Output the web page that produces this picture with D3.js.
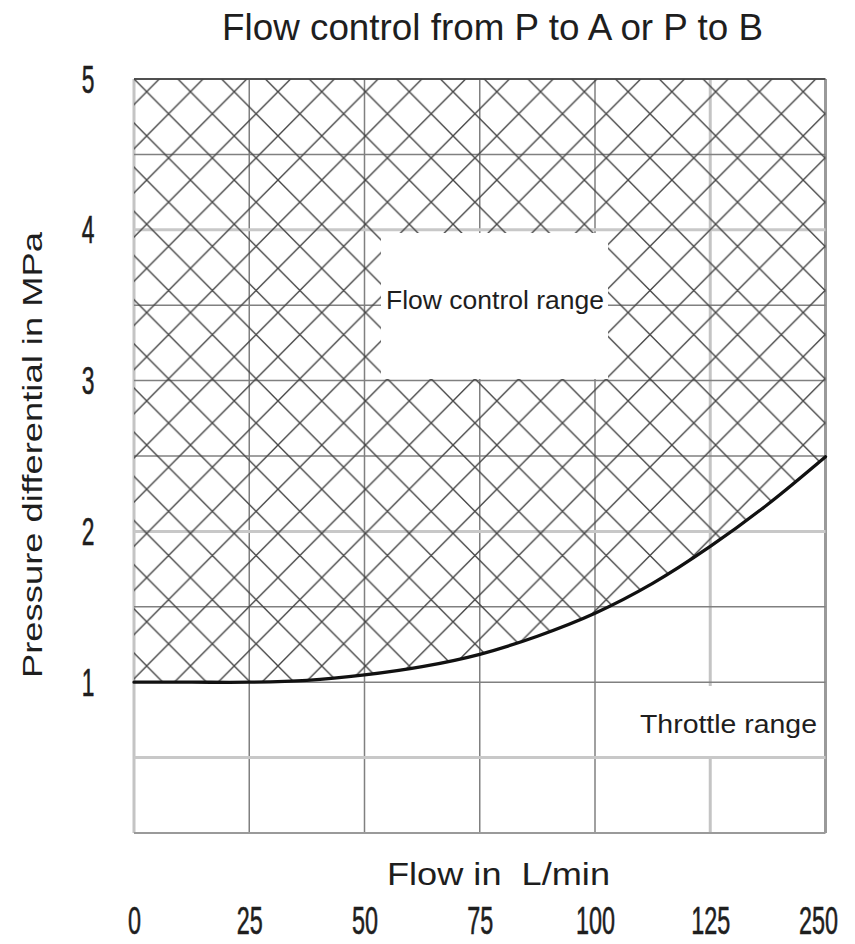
<!DOCTYPE html>
<html>
<head>
<meta charset="utf-8">
<script src="https://cdn.jsdelivr.net/npm/d3@7"></script>
<style>
  html, body { margin: 0; padding: 0; background: #fff; }
  svg { display: block; }
  text { font-family: "Liberation Sans", Arial, Helvetica, sans-serif; fill: #1e1e1e; }
</style>
</head>
<body>
<svg id="chart" width="855" height="944"></svg>
<script>
// ---- data ----
const flowLabels = ["0", "25", "50", "75", "100", "125", "250"];   // x tick labels (equally spaced)
const pressureTicks = [1, 2, 3, 4, 5];                               // y tick labels
const curveIdx = [0, 0.5, 1, 1.5, 2, 2.5, 3, 3.5, 4, 4.5, 5, 5.5, 6]; // positions along flow axis (label index)
const curveP   = [1.0, 1.0, 1.0, 1.012, 1.048, 1.103, 1.185, 1.305, 1.457, 1.655, 1.90, 2.18, 2.495]; // MPa
const titleText = "Flow control from P to A or P to B";
const xTitle = "Flow in  L/min";
const yTitle = "Pressure differential in MPa";
const regionLabels = ["Flow control range", "Throttle range"];

// ---- layout ----
const svg = d3.select("#chart");
const pL = 134, pR = 825.5, pT = 79, pB = 833;
const x = d3.scaleLinear().domain([0, flowLabels.length - 1]).range([pL, pR]);
const y = d3.scaleLinear().domain([0, 5]).range([pB, pT]);

const curveData = curveIdx.map((v, i) => ({ i: v, p: curveP[i] }));
const curveType = d3.curveCatmullRom.alpha(0.5);

// hatch pattern
const defs = svg.append("defs");
const pw = (pR - pL) / 15.8, ph = (pB - pT) / 17.07;
const pat = defs.append("pattern")
  .attr("id", "hatch")
  .attr("patternUnits", "userSpaceOnUse")
  .attr("x", pL + 12.7).attr("y", pT + 12.7)
  .attr("width", pw).attr("height", ph);
pat.append("path")
  .attr("d", `M${-pw},${-ph}L${2 * pw},${2 * ph}M${2 * pw},${-ph}L${-pw},${2 * ph}`)
  .attr("stroke", "#454545").attr("stroke-width", 1.4).attr("fill", "none");

// grid
const gx = svg.append("g");
const vStyle = i => i === 0 ? ["#c4c4c4", 3] : i === 5 ? ["#c4c4c4", 3] : i === 6 ? ["#9a9a9a", 3] : ["#808080", 1.5];
d3.range(flowLabels.length).forEach(i => {
  const s = vStyle(i);
  gx.append("line").attr("x1", x(i)).attr("x2", x(i)).attr("y1", pT).attr("y2", pB)
    .attr("stroke", s[0]).attr("stroke-width", s[1]);
});
const hStyle = v => (v === 0.5 || v === 2 || v === 4) ? ["#c8c8c8", 3] : v === 5 ? ["#505050", 2] : v === 0 ? ["#9a9a9a", 2] : ["#808080", 1.5];
d3.range(0, 5.01, 0.5).forEach(v => {
  const s = hStyle(v);
  gx.append("line").attr("x1", pL).attr("x2", pR).attr("y1", y(v)).attr("y2", y(v))
    .attr("stroke", s[0]).attr("stroke-width", s[1]);
});

// hatched region above the curve
const area = d3.area()
  .x(d => x(d.i))
  .y0(y(5))
  .y1(d => y(d.p))
  .curve(curveType);
svg.append("path").datum(curveData).attr("d", area).attr("fill", "url(#hatch)");

// white label boxes
svg.append("rect").attr("x", 381).attr("y", 233).attr("width", 227).attr("height", 146).attr("fill", "#fff");
svg.append("rect").attr("x", 606).attr("y", 686).attr("width", 217).attr("height", 70).attr("fill", "#fff");

// curve
const line = d3.line().x(d => x(d.i)).y(d => y(d.p)).curve(curveType);
svg.append("path").datum(curveData).attr("d", line)
  .attr("fill", "none").attr("stroke", "#111").attr("stroke-width", 3.3)
  .attr("stroke-linecap", "round");

// region labels
svg.append("text").attr("x", 495).attr("y", 309).attr("text-anchor", "middle")
  .attr("font-size", 26).attr("textLength", 218).attr("lengthAdjust", "spacingAndGlyphs")
  .text(regionLabels[0]);
svg.append("text").attr("x", 728.5).attr("y", 733).attr("text-anchor", "middle")
  .attr("font-size", 26).attr("textLength", 177).attr("lengthAdjust", "spacingAndGlyphs")
  .text(regionLabels[1]);

// x axis
const xAxis = d3.axisBottom(x).tickValues(d3.range(flowLabels.length))
  .tickFormat(i => flowLabels[i]).tickSize(0);
const gxa = svg.append("g").attr("transform", "translate(0,934)").call(xAxis);
gxa.select(".domain").remove();
gxa.selectAll("text")
  .attr("y", 0).attr("dy", 0)
  .attr("font-size", 39).attr("font-family", "Liberation Sans, Arial, sans-serif")
  .attr("fill", "#1e1e1e").attr("stroke", "#1e1e1e").attr("stroke-width", 0.6)
  .attr("transform", "scale(0.6,1)");
gxa.selectAll(".tick").filter(i => i === 6).attr("transform", `translate(${x(6) - 7},0)`);

// y axis
const yAxis = d3.axisLeft(y).tickValues(pressureTicks).tickFormat(d3.format("d")).tickSize(0);
const gya = svg.append("g").attr("transform", "translate(88,0)").call(yAxis);
gya.select(".domain").remove();
gya.selectAll("text")
  .attr("x", 0).attr("y", 13).attr("dy", 0)
  .attr("text-anchor", "middle")
  .attr("font-size", 38).attr("font-family", "Liberation Sans, Arial, sans-serif")
  .attr("fill", "#1e1e1e").attr("stroke", "#1e1e1e").attr("stroke-width", 0.6)
  .attr("transform", "scale(0.6,1)");

// titles
svg.append("text").attr("x", 492.5).attr("y", 39.5).attr("text-anchor", "middle")
  .attr("font-size", 36).attr("textLength", 541).attr("lengthAdjust", "spacingAndGlyphs")
  .text(titleText);
svg.append("text").attr("x", 498.5).attr("y", 885).attr("text-anchor", "middle")
  .attr("font-size", 32).attr("textLength", 223).attr("lengthAdjust", "spacingAndGlyphs")
  .style("white-space", "pre")
  .text(xTitle);
svg.append("text").attr("transform", "translate(42,455) rotate(-90)").attr("text-anchor", "middle")
  .attr("font-size", 28).attr("textLength", 446).attr("lengthAdjust", "spacingAndGlyphs")
  .text(yTitle);
</script>
</body>
</html>
